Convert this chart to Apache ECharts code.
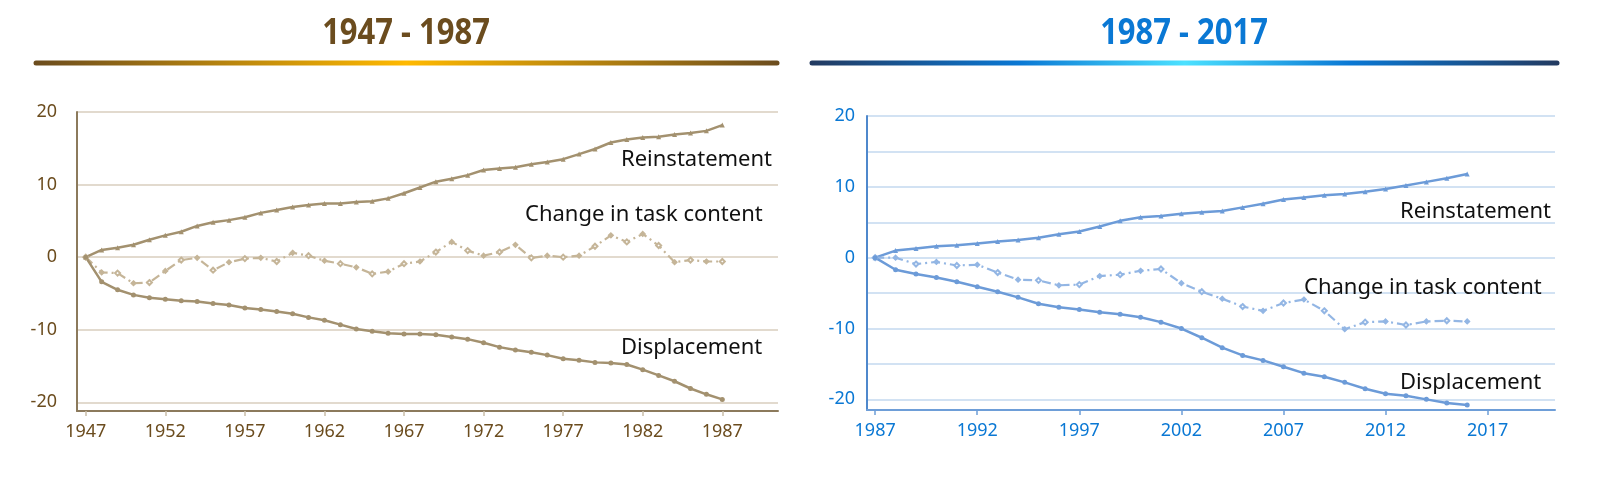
<!DOCTYPE html>
<html>
<head>
<meta charset="utf-8">
<script src="https://cdn.jsdelivr.net/npm/echarts@6/dist/echarts.min.js"></script>
<style>
  html, body { margin: 0; padding: 0; background: #fff; }
  #main { width: 1605px; height: 503px; }
</style>
</head>
<body>
<div id="main"></div>
<script>
// years on the two x axes
var yearsA = [];
for (var y = 1947; y <= 1987; y++) yearsA.push(y);
var yearsB = [];
for (var y2 = 1987; y2 <= 2016; y2++) yearsB.push(y2);

var ticksA = [1947, 1952, 1957, 1962, 1967, 1972, 1977, 1982, 1987];
var ticksB = [1987, 1992, 1997, 2002, 2007, 2012, 2017];
var yLabels = [-20, -10, 0, 10, 20];
var yGridB = [-20, -15, -10, -5, 0, 5, 10, 15, 20];

// 1947 - 1987
var reinstA = [0, 1.0, 1.3, 1.7, 2.4, 3.0, 3.5, 4.3, 4.8, 5.1, 5.5, 6.1, 6.5, 6.9, 7.2, 7.4, 7.4, 7.6, 7.7, 8.1,
  8.8, 9.6, 10.4, 10.8, 11.3, 12.0, 12.2, 12.4, 12.8, 13.1, 13.5, 14.2, 14.9, 15.8, 16.2, 16.5, 16.6, 16.9, 17.1, 17.4, 18.2];
var changeA = [0, -2.1, -2.2, -3.6, -3.5, -1.9, -0.4, -0.1, -1.8, -0.7, -0.2, -0.1, -0.6, 0.6, 0.2, -0.5, -0.9, -1.4, -2.3, -2.0,
  -0.9, -0.6, 0.7, 2.1, 0.9, 0.2, 0.7, 1.7, -0.1, 0.2, 0.0, 0.2, 1.5, 3.0, 2.1, 3.2, 1.6, -0.7, -0.4, -0.6, -0.6];
var displA = [0, -3.4, -4.5, -5.2, -5.6, -5.8, -6.0, -6.1, -6.4, -6.6, -7.0, -7.2, -7.5, -7.8, -8.3, -8.7, -9.3, -9.9, -10.2, -10.5,
  -10.6, -10.6, -10.7, -11.0, -11.3, -11.8, -12.4, -12.8, -13.1, -13.5, -14.0, -14.2, -14.5, -14.6, -14.8, -15.5, -16.3, -17.1, -18.1, -18.9, -19.6];

// 1987 - 2017
var reinstB = [0, 1.0, 1.3, 1.6, 1.75, 2.0, 2.3, 2.5, 2.8, 3.3, 3.7, 4.4, 5.2, 5.7, 5.9,
  6.2, 6.4, 6.6, 7.1, 7.6, 8.2, 8.5, 8.8, 9.0, 9.3, 9.7, 10.2, 10.7, 11.2, 11.8];
var changeB = [0, 0.0, -0.9, -0.6, -1.1, -1.0, -2.1, -3.1, -3.2, -3.9, -3.8, -2.6, -2.4, -1.85, -1.6,
  -3.6, -4.8, -5.8, -6.9, -7.5, -6.4, -5.9, -7.5, -10.1, -9.1, -9.0, -9.5, -9.0, -8.9, -9.0];
var displB = [0, -1.7, -2.3, -2.8, -3.4, -4.1, -4.8, -5.6, -6.5, -7.0, -7.3, -7.7, -8.0, -8.4, -9.1,
  -10.0, -11.3, -12.7, -13.8, -14.5, -15.4, -16.3, -16.8, -17.6, -18.5, -19.2, -19.5, -20.0, -20.5, -20.8];

var names = ['Reinstatement', 'Change in task content', 'Displacement'];

function pairs(xs, vs) {
  return xs.map(function (x, i) { return [x, vs[i]]; });
}

var brown = '#6B4C1E';
var blue = '#0A78D4';
var labelFont = 'Noto Sans';

function solid(name, data, idx, color, sym) {
  return {
    name: name, type: 'line', xAxisIndex: idx, yAxisIndex: idx,
    data: data, symbol: sym, symbolSize: 5, showSymbol: true,
    lineStyle: { color: color, width: 2.5 },
    itemStyle: { color: color },
    silent: true, animation: false
  };
}
function dashed(name, data, idx, color) {
  return {
    name: name, type: 'line', xAxisIndex: idx, yAxisIndex: idx,
    data: data, symbolSize: 5, showSymbol: true,
    symbol: function (v, p) { return p.dataIndex % 2 ? 'diamond' : 'emptyDiamond'; },
    lineStyle: { color: color, width: 2.2, type: [9, 4, 2, 4] },
    itemStyle: { color: color, borderColor: color, borderWidth: 1.2 },
    silent: true, animation: false
  };
}

function xAxis(idx, min, max, ticks, lineColor, tickColor, txt) {
  return {
    type: 'value', gridIndex: idx, min: min, max: max,
    axisLine: { show: true, onZero: false, lineStyle: { color: lineColor, width: 2 } },
    axisTick: { show: true, customValues: ticks, length: 5, lineStyle: { color: tickColor, width: 1.5 } },
    axisLabel: {
      customValues: ticks, color: txt, fontFamily: labelFont, fontSize: 18, margin: 12,
      formatter: function (v) { return String(v); }
    },
    splitLine: { show: false }
  };
}
function yAxis(idx, min, grid, lineColor, gridColor, txt, margin) {
  return {
    type: 'value', gridIndex: idx, min: min, max: 20,
    axisLine: { show: true, lineStyle: { color: lineColor, width: 2 } },
    axisTick: { show: false, customValues: grid },
    axisLabel: { customValues: yLabels, color: txt, fontFamily: labelFont, fontSize: 18, margin: margin },
    splitLine: { show: true, lineStyle: { color: gridColor, width: 1.5 } }
  };
}

function gradLine(x1, x2, stops) {
  return {
    type: 'line', shape: { x1: x1, y1: 63, x2: x2, y2: 63 },
    style: {
      lineWidth: 5, lineCap: 'round',
      stroke: new echarts.graphic.LinearGradient(0, 0, 1, 0, stops)
    }
  };
}
// narrow bold heading: Noto Sans squeezed horizontally
function title(text, cx, color) {
  return {
    type: 'text', x: cx, y: 34, scaleX: 0.86,
    style: { text: text, fill: color, font: 'bold 36px "Noto Sans"', align: 'center', verticalAlign: 'middle' }
  };
}
function tag(text, x, y) {
  return {
    type: 'text', x: x, y: y, z: 10,
    style: { text: text, fill: '#111', font: '22px "Noto Sans"', align: 'left', verticalAlign: 'middle' }
  };
}

var chart = echarts.init(document.getElementById('main'));
chart.setOption({
  backgroundColor: '#fff',
  animation: false,
  grid: [
    { left: 77, top: 112, width: 701, height: 299 },
    { left: 867, top: 116, width: 688, height: 294 }
  ],
  xAxis: [
    xAxis(0, 1946.45, 1990.5, ticksA, '#8C7A5C', '#C9BDA8', brown),
    xAxis(1, 1986.6, 2020.3, ticksB, '#6E9ED8', '#6E9ED8', blue)
  ],
  yAxis: [
    yAxis(0, -21.2, yLabels, '#8C7A5C', '#D8CEBE', brown, 20),
    yAxis(1, -21.5, yGridB, '#4F88CC', '#C3D8EF', blue, 12)
  ],
  series: [
    solid(names[0], pairs(yearsA, reinstA), 0, '#A3916F', 'triangle'),
    dashed(names[1], pairs(yearsA, changeA), 0, '#C5B598'),
    solid(names[2], pairs(yearsA, displA), 0, '#A3916F', 'circle'),
    solid(names[0], pairs(yearsB, reinstB), 1, '#6C9BD8', 'triangle'),
    dashed(names[1], pairs(yearsB, changeB), 1, '#93B6E4'),
    solid(names[2], pairs(yearsB, displB), 1, '#6C9BD8', 'circle')
  ],
  graphic: [
    title('1947 - 1987', 406, brown),
    gradLine(36, 777, [
      { offset: 0, color: '#6B4C1E' }, { offset: 0.5, color: '#FFB900' }, { offset: 1, color: '#6B4C1E' }
    ]),
    title('1987 - 2017', 1184, blue),
    gradLine(812, 1557, [
      { offset: 0, color: '#233A60' }, { offset: 0.28, color: '#0A78D4' }, { offset: 0.5, color: '#4CE1FF' },
      { offset: 0.72, color: '#0A78D4' }, { offset: 1, color: '#233A60' }
    ]),
    tag(names[0], 621, 160),
    tag(names[1], 525, 215),
    tag(names[2], 621, 348),
    tag(names[0], 1400, 212),
    tag(names[1], 1304, 288),
    tag(names[2], 1400, 383)
  ]
});
</script>
</body>
</html>
